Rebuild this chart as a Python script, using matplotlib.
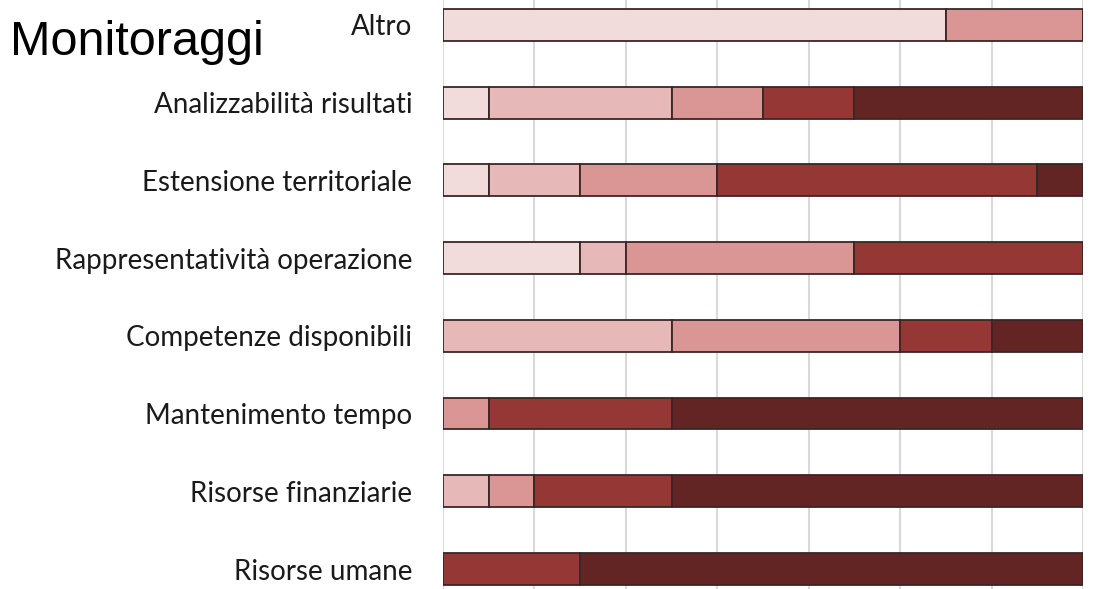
import numpy as np
import matplotlib
matplotlib.use("Agg")
import matplotlib.pyplot as plt

# categories listed bottom to top
categories = ['Risorse umane', 'Risorse finanziarie', 'Mantenimento tempo',
              'Competenze disponibili', 'Rappresentatività operazione',
              'Estensione territoriale', 'Analizzabilità risultati', 'Altro']

# number of answers per level (14 respondents), lightest to darkest
level1 = [0, 0, 0, 0, 3, 1, 1, 11]
level2 = [0, 1, 0, 5, 1, 2, 4, 0]
level3 = [0, 1, 1, 5, 5, 3, 2, 3]
level4 = [3, 3, 4, 2, 5, 7, 2, 0]
level5 = [11, 9, 9, 2, 0, 1, 5, 0]

levels = [level1, level2, level3, level4, level5]
colors = ['#f2dcdb', '#e6b9b8', '#d99694', '#953735', '#632523']

fig = plt.figure(figsize=(11.02, 5.89), dpi=100)
ax = fig.add_axes([443 / 1102, 0, 640 / 1102, 1])

y = np.arange(len(categories))
left = np.zeros(len(categories))
for vals, col in zip(levels, colors):
    vals = np.array(vals)
    ax.barh(y, vals, left=left, height=0.41, color=col,
            edgecolor='#3b2626', linewidth=1.3, zorder=3)
    left += vals

ax.set_xlim(0, 14)
ax.set_ylim(-0.257, 7.32)
ax.set_xticks(np.arange(0, 15, 2))
ax.xaxis.grid(True, color='#d9d9d9', linewidth=1.5, zorder=0)
ax.tick_params(axis='x', length=0, labelbottom=False)
ax.set_yticks(y)
ax.set_yticklabels(categories, fontsize=20, family='Lato', color='#1a1a1a')
ax.tick_params(axis='y', length=0, pad=22)
for s in ax.spines.values():
    s.set_visible(False)

fig.text(10 / 1102, 1 - 55 / 589, 'Monitoraggi', fontsize=35,
         family='Liberation Sans', color='black', va='baseline', ha='left')

fig.savefig('out.png', dpi=100)
